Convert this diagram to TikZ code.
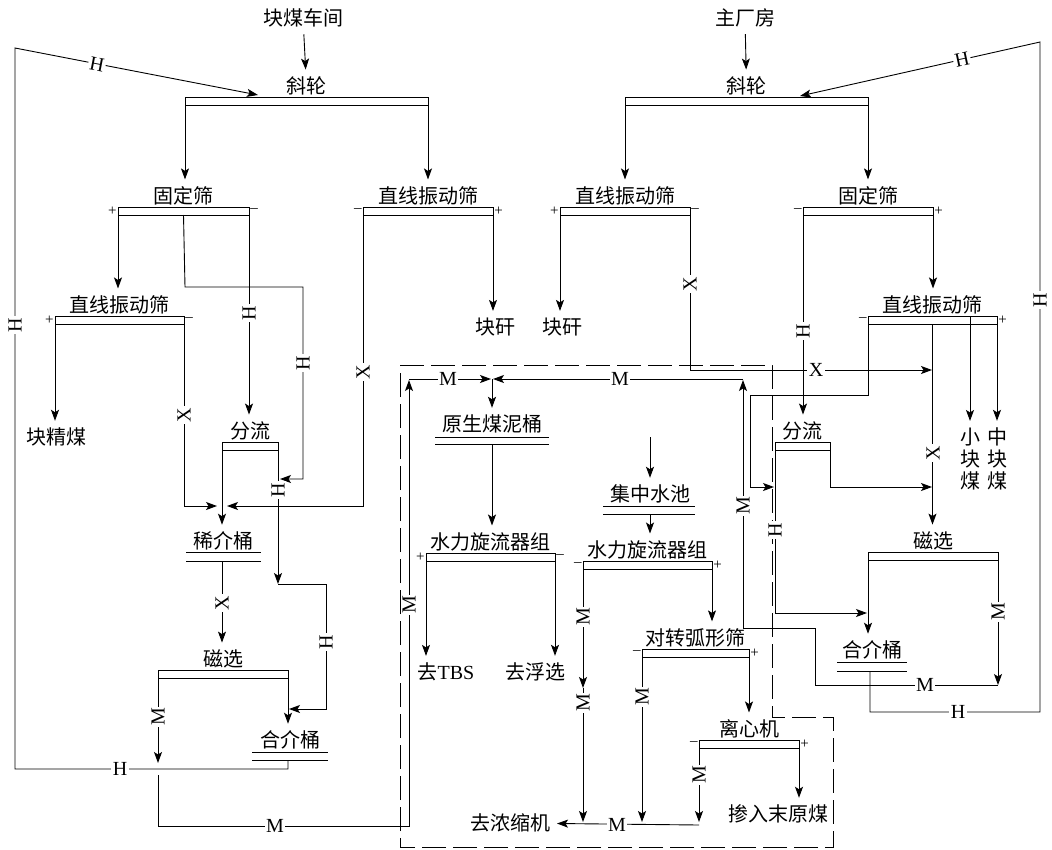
\documentclass[tikz,border=0pt]{standalone}
\usepackage{fontspec}
\setmainfont{Liberation Serif}
\newfontfamily\cjk{Noto Sans CJK SC}
\usetikzlibrary{arrows.meta}

\begin{document}
\begin{tikzpicture}[x=1pt, y=-1pt, line width=0.9pt, flow/.style={-{Stealth[length=11pt,width=8pt,inset=2.5pt]}}, txt/.style={font=\cjk\fontsize{20}{22}\selectfont, inner sep=1pt, outer sep=6pt}, scr/.style={draw, line width=0.8pt, minimum height=8pt, inner sep=0pt, outer sep=0pt}, pm/.style={font=\fontsize{15}{15}\selectfont, inner sep=1pt}, tag/.style={fill=white, inner sep=1.5pt, font=\fontsize{20}{20}\selectfont}, vtag/.style={tag, rotate=90}, bin/.style={line width=0.8pt}, frame/.style={line width=0.8pt, dash pattern=on 24pt off 7pt}]
\useasboundingbox (0,0) rectangle (1052,849);
\draw[frame] (400,365)--(772,365)--(772,717)--(833,717)--(833,847)--(400,847)--cycle;
\node[txt] (kmcj) at (303,18) {块煤车间}; \node[txt] (zcf) at (745,18) {主厂房};
\node[scr, minimum width=243pt] (xl1b) at (306.5,101) {}; \node[txt, above=-5pt] (xl1) at (xl1b.north) {斜轮};
\node[scr, minimum width=131pt, label={[pm]left:+}, label={[pm]right:–}] (gd1b) at (183.5,211) {}; \node[txt, above=-5pt] (gd1) at (gd1b.north) {固定筛};
\node[scr, minimum width=130pt, label={[pm]left:–}, label={[pm]right:+}] (zx1b) at (428,211) {}; \node[txt, above=-5pt] (zx1) at (zx1b.north) {直线振动筛};
\node[scr, minimum width=129pt, label={[pm]left:+}, label={[pm]right:–}] (zx2b) at (119.5,320) {}; \node[txt, above=-5pt] (zx2) at (zx2b.north) {直线振动筛};
\node[scr, minimum width=56pt] (fl1b) at (250,446) {}; \node[txt, above=-5pt] (fl1) at (fl1b.north) {分流};
\node[scr, minimum width=130pt] (cx1b) at (223,674) {}; \node[txt, above=-5pt] (cx1) at (cx1b.north) {磁选};
\node[scr, minimum width=243pt] (xl2b) at (746.5,101) {}; \node[txt, above=-5pt] (xl2) at (xl2b.north) {斜轮};
\node[scr, minimum width=130pt, label={[pm]left:+}, label={[pm]right:–}] (zx3b) at (625,211) {}; \node[txt, above=-5pt] (zx3) at (zx3b.north) {直线振动筛};
\node[scr, minimum width=130pt, label={[pm]left:–}, label={[pm]right:+}] (gd2b) at (868,211) {}; \node[txt, above=-5pt] (gd2) at (gd2b.north) {固定筛};
\node[scr, minimum width=129pt, label={[pm]left:–}, label={[pm]right:+}] (zx4b) at (932.5,320) {}; \node[txt, above=-5pt] (zx4) at (zx4b.north) {直线振动筛};
\node[scr, minimum width=55pt] (fl2b) at (802.5,446) {}; \node[txt, above=-5pt] (fl2) at (fl2b.north) {分流};
\node[scr, minimum width=130pt] (cx2b) at (933,556) {}; \node[txt, above=-5pt] (cx2) at (cx2b.north) {磁选};
\node[scr, minimum width=129pt, label={[pm]left:+}, label={[pm]right:–}] (sl1b) at (490.5,557) {}; \node[txt, above=-5pt] (sl1) at (sl1b.north) {水力旋流器组};
\node[scr, minimum width=129pt, label={[pm]left:–}, label={[pm]right:+}] (sl2b) at (647.5,565) {}; \node[txt, above=-5pt] (sl2) at (sl2b.north) {水力旋流器组};
\node[scr, minimum width=107pt, label={[pm]left:–}, label={[pm]right:+}] (dzb) at (695.5,653) {}; \node[txt, above=-5pt] (dz) at (dzb.north) {对转弧形筛};
\node[scr, minimum width=100pt, label={[pm]left:–}, label={[pm]right:+}] (lxb) at (749,744) {}; \node[txt, above=-5pt] (lx) at (lxb.north) {离心机};
\node[txt] (xjt) at (223,541) {稀介桶}; \draw[bin] (186,552)--(261,552) (186,561)--(261,561); \coordinate (xjt-b) at (222,561);
\node[txt] (hjt1) at (290,740) {合介桶}; \draw[bin] (252,752)--(328,752) (252,760)--(328,760); \coordinate (hjt1-b) at (288,760);
\node[txt] (ysmt) at (492,424) {原生煤泥桶}; \draw[bin] (435,437)--(549,437) (435,444)--(549,444); \coordinate (ysmt-b) at (492,444);
\node[txt] (jzsc) at (650,494) {集中水池}; \draw[bin] (603,506)--(695,506) (603,514)--(695,514); \coordinate (jzsc-b) at (650,514);
\node[txt] (hjt2) at (872,650) {合介桶}; \draw[bin] (837,662)--(907,662) (837,671)--(907,671); \coordinate (hjt2-b) at (870,671);
\node[txt] (kjm) at (57,437) {块精煤}; \node[txt] (kg1) at (495,327) {块矸}; \node[txt] (kg2) at (562,327) {块矸};
\node[txt] (qtbs) at (446,672) {去{\rmfamily TBS}}; \node[txt] (qfx) at (535,672) {去浮选};
\node[txt] (qnsj) at (510,823) {去浓缩机}; \node[txt] (crmy) at (778,814) {掺入末原煤};
\node[txt, align=center] (xkm) at (970,459) {小\\块\\煤}; \node[txt, align=center] (zkm) at (997,459) {中\\块\\煤};
\coordinate (in1) at (650,437); \coordinate (xk-t) at (970,316);
\draw[flow] (kmcj) -- (xl1);
\draw[flow] (xl1b.south west) -- (xl1b.south west |- gd1.north);
\draw[flow] (xl1b.south east) -- (xl1b.south east |- zx1.north);
\draw[flow] (gd1b.south west) -- (gd1b.south west |- zx2.north);
\draw[flow] (gd1b.south) -- (185,287) -- (303,287) -- (303,479) -- (280,479);
\draw[flow] (gd1b.south east) -- (gd1b.south east |- fl1.north);
\draw[flow] (zx2b.south west) -- (zx2b.south west |- kjm.north);
\draw[flow] (zx2b.south east) -- (184,506) -- (217,506);
\draw[flow] (zx1b.south west) -- (363,506) -- (227,506);
\draw[flow] (zx1b.south east) -- (zx1b.south east |- kg1.north);
\draw[flow] (fl1b.south west) -- (fl1b.south west |- xjt.north);
\draw[flow] (fl1b.south east) -- (278,584);
\draw[flow] (278,584) -- (326,584) -- (326,709) -- (289,709);
\draw[flow] (xjt-b) -- (xjt-b |- cx1.north);
\draw[flow] (cx1b.south west) -- (158,763);
\draw[flow] (cx1b.south east) -- (cx1b.south east |- hjt1.north);
\draw[flow] (hjt1-b) -- (288,769) -- (15,769) -- (15,48) -- (258,95);
\draw[flow] (158,775) -- (158,826) -- (409,826) -- (409,380);
\draw[flow] (409,379) -- (491,379);
\draw[flow] (743,379) -- (493,379);
\draw[flow] (492,379) -- (ysmt);
\draw[flow] (ysmt-b) -- (ysmt-b |- sl1.north);
\draw[flow] (sl1b.south west) -- (sl1b.south west |- qtbs.north);
\draw[flow] (sl1b.south east) -- (sl1b.south east |- qfx.north);
\draw[flow] (in1) -- (jzsc);
\draw[flow] (jzsc-b) -- (jzsc-b |- sl2.north);
\draw[flow] (sl2b.south west) -- (583,688);
\draw[flow] (583,688) -- (583,822);
\draw[flow] (sl2b.south east) -- (sl2b.south east |- dz.north);
\draw[flow] (dzb.south west) -- (642,822);
\draw[flow] (dzb.south east) -- (dzb.south east |- lx.north);
\draw[flow] (lxb.south west) -- (699,822);
\draw[flow] (lxb.south east) -- (lxb.south east |- crmy.north);
\draw[flow] (699,825) -- (qnsj);
\draw[flow] (zcf) -- (xl2);
\draw[flow] (xl2b.south west) -- (xl2b.south west |- zx3.north);
\draw[flow] (xl2b.south east) -- (xl2b.south east |- gd2.north);
\draw[flow] (hjt2-b) -- (870,712) -- (1040,712) -- (1040,42) -- (800,96);
\draw[flow] (zx3b.south west) -- (zx3b.south west |- kg2.north);
\draw[flow] (zx3b.south east) -- (690,370) -- (932,370);
\draw[flow] (gd2b.south west) -- (gd2b.south west |- fl2.north);
\draw[flow] (gd2b.south east) -- (gd2b.south east |- zx4.north);
\draw[flow] (zx4b.south west) -- (868,395) -- (750,395) -- (750,487) -- (774,487);
\draw[flow] (zx4b.south) -- (zx4b.south |- cx2.north);
\draw[flow] (xk-t) -- (xk-t |- xkm.north);
\draw[flow] (zx4b.south east) -- (zx4b.south east |- zkm.north);
\draw[flow] (fl2b.south west) -- (775,613) -- (867,613);
\draw[flow] (fl2b.south east) -- (830,487) -- (932,487);
\draw[flow] (cx2b.south west) -- (cx2b.south west |- hjt2.north);
\draw[flow] (cx2b.south east) -- (998,685);
\draw[flow] (998,685) -- (815,685) -- (815,628) -- (743,628) -- (743,380);
\node[tag, rotate=-11] (t1) at (97,64) {H}; \node[vtag] (t2) at (15,325) {H}; \node[vtag] (t3) at (303,363) {H};
\node[vtag] (t4) at (249,313) {H}; \node[vtag] (t5) at (184,415) {X}; \node[vtag] (t6) at (363,372) {X};
\node[vtag] (t7) at (278,490) {H}; \node[vtag] (t8) at (326,642) {H}; \node[vtag] (t9) at (222,603) {X};
\node[vtag] (t10) at (158,717) {M}; \node[tag] (t11) at (120,769) {H}; \node[tag] (t12) at (275,826) {M};
\node[vtag] (t13) at (409,605) {M}; \node[tag] (t14) at (448,379) {M}; \node[tag] (t15) at (620,379) {M};
\node[vtag] (t16) at (583,617) {M}; \node[vtag] (t17) at (583,703) {M}; \node[vtag] (t18) at (642,697) {M};
\node[vtag] (t19) at (699,775) {M}; \node[tag] (t20) at (617,825) {M}; \node[vtag] (t21) at (743,506) {M};
\node[tag, rotate=12] (t22) at (962,60) {H}; \node[vtag] (t23) at (1040,300) {H}; \node[vtag] (t24) at (690,284) {X};
\node[tag] (t25) at (816,370) {X}; \node[vtag] (t26) at (803,331) {H}; \node[vtag] (t27) at (775,530) {H};
\node[vtag] (t28) at (933,453) {X}; \node[vtag] (t29) at (998,612) {M}; \node[tag] (t30) at (925,685) {M};
\node[tag] (t31) at (958,712) {H};
\end{tikzpicture}
\end{document}
